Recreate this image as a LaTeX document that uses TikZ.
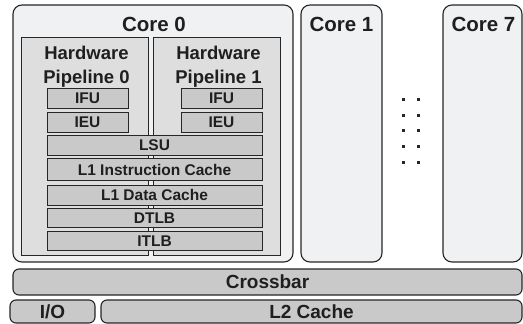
\documentclass[tikz,border=0pt]{standalone}
\usepackage{fontspec}
\setmainfont{Liberation Sans}
\begin{document}
\begin{tikzpicture}[x=1pt,y=-1pt,
  every node/.style={inner sep=0pt, outer sep=0pt, text=black!88, font=\bfseries},
  corebox/.style={draw=black!85, line width=1.1pt, fill=coreg, rounded corners=9pt},
  pipebox/.style={draw=black!85, line width=0.9pt, fill=pipeg},
  unitbox/.style={draw=black!85, line width=0.9pt, fill=unitg, font=\fontsize{15.5}{16}\bfseries},
  busbox/.style={draw=black!85, line width=1.1pt, fill=unitg, rounded corners=6pt, font=\fontsize{19}{19}\bfseries},
  titletext/.style={font=\fontsize{20.5}{20}\bfseries},
  pipetext/.style={font=\fontsize{18.5}{23.5}\bfseries, align=center},
  dotsq/.style={fill=black!85, minimum size=3pt}
]
\definecolor{coreg}{HTML}{F0F1F3}
\definecolor{pipeg}{HTML}{DEDEDF}
\definecolor{unitg}{HTML}{C9C9CA}
\useasboundingbox (0,0) rectangle (523,324);
\fill[white] (0,0) rectangle (523,324);

% cores
\node[corebox, minimum width=280pt, minimum height=257pt] (core0) at (153,133.5) {};
\node[corebox, minimum width=81pt, minimum height=257pt] (core1) at (341.5,133.5) {};
\node[corebox, minimum width=79pt, minimum height=257pt] (core7) at (482.5,133.5) {};
\node[titletext] (t0) at (154,24.5) {Core 0};
\node[titletext] (t1) at (341.5,24.5) {Core 1};
\node[titletext] (t7) at (483.5,24.5) {Core 7};

% pipelines
\node[pipebox, minimum width=127pt, minimum height=218pt] (pipe0) at (84.5,146) {};
\node[pipebox, minimum width=127pt, minimum height=218pt] (pipe1) at (216.5,146) {};
\node[pipetext] (pt0) at (86.5,66.5) {Hardware\\Pipeline 0};
\node[pipetext] (pt1) at (218.5,66.5) {Hardware\\Pipeline 1};

% per-pipeline units
\node[unitbox, minimum width=81pt, minimum height=20pt] (ifu0) at (87.5,98) {IFU};
\node[unitbox, minimum width=81pt, minimum height=20pt] (ieu0) at (87.5,122) {IEU};
\node[unitbox, minimum width=81pt, minimum height=20pt] (ifu1) at (221.5,98) {IFU};
\node[unitbox, minimum width=81pt, minimum height=20pt] (ieu1) at (221.5,122) {IEU};

% shared units
\node[unitbox, minimum width=215pt, minimum height=20pt] (lsu) at (154.5,145) {LSU};
\node[unitbox, minimum width=215pt, minimum height=22pt] (l1i) at (154.5,169.5) {L1 Instruction Cache};
\node[unitbox, minimum width=215pt, minimum height=20pt] (l1d) at (154.5,195) {L1 Data Cache};
\node[unitbox, minimum width=215pt, minimum height=19.5pt] (dtlb) at (154.5,218) {DTLB};
\node[unitbox, minimum width=215pt, minimum height=19.5pt] (itlb) at (154.5,241) {ITLB};

% ellipsis dots
\foreach \cx in {403,418}{
  \foreach \cy in {99,115,130,146,162}{
    \node[dotsq] at (\cx,\cy) {};
  }
}

% buses
\node[busbox, minimum width=509pt, minimum height=26pt] (xbar) at (267.5,282) {Crossbar};
\node[busbox, minimum width=85pt, minimum height=23pt] (io) at (52.5,311.5) {I/O};
\node[busbox, minimum width=421pt, minimum height=23pt] (l2) at (311.5,311.5) {L2 Cache};
\end{tikzpicture}
\end{document}
